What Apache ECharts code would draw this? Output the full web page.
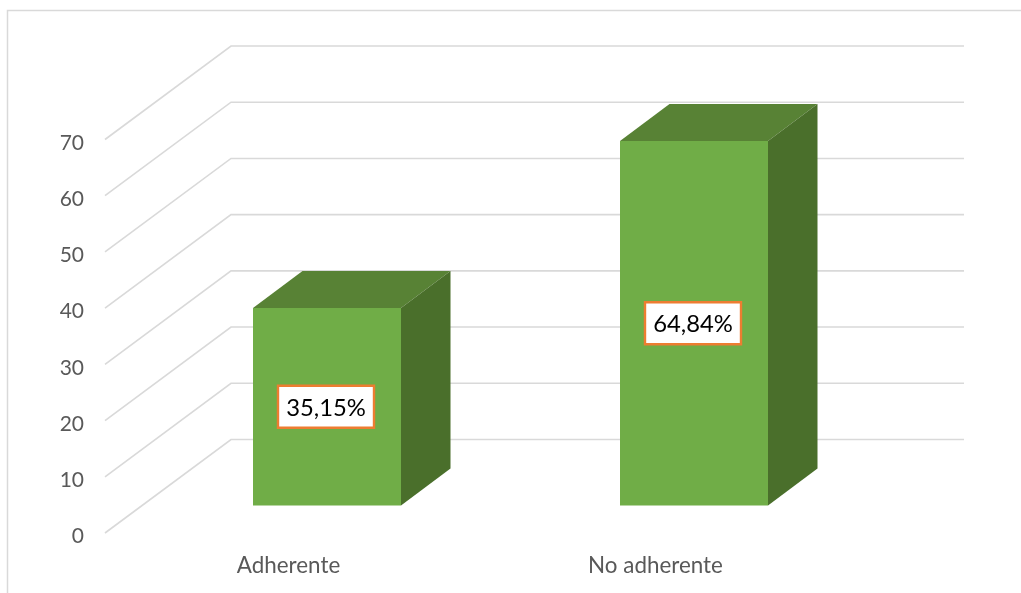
<!DOCTYPE html>
<html>
<head>
<meta charset="utf-8">
<style>html,body{margin:0;padding:0;background:#fff}#c{width:1021px;height:593px}</style>
<script src="https://cdn.jsdelivr.net/npm/echarts@6/dist/echarts.min.js"></script>
</head>
<body>
<div id="c"></div>
<script>
var categories = ['Adherente', 'No adherente'];
var values = [35.15, 64.84];
var valueLabels = ['35,15%', '64,84%'];
var yTicks = [0, 10, 20, 30, 40, 50, 60, 70];

var wallDx = 126, wallDy = -93.5, wallRight = 964;
var barOffsetX = 38.5, barOffsetY = -27.5, barHalf = 74, sideDx = 49.5, sideDy = -37;

var chart = echarts.init(document.getElementById('c'), null, {renderer: 'canvas'});

function gridItem(params, api) {
  var p = api.coord([0, api.value(0)]);
  var x0 = params.coordSys.x, y = p[1];
  return {
    type: 'polyline', silent: true,
    shape: {points: [[x0, y], [x0 + wallDx, y + wallDy], [wallRight, y + wallDy]]},
    style: {stroke: '#d9d9d9', lineWidth: 1.6, fill: null}
  };
}

function barItem(params, api) {
  var top = api.coord([api.value(0), api.value(1)]);
  var base = api.coord([api.value(0), 0]);
  var cx = top[0] + barOffsetX;
  var l = cx - barHalf, r = cx + barHalf;
  var t = top[1] + barOffsetY, b = base[1] + barOffsetY;
  var boxW = 96, boxH = 42, my = (t + b) / 2, lx = cx - 1;
  return {
    type: 'group',
    children: [
      {type: 'polygon', shape: {points: [[l, t], [r, t], [r + sideDx, t + sideDy], [l + sideDx, t + sideDy]]}, style: {fill: '#588235'}},
      {type: 'polygon', shape: {points: [[r, t], [r + sideDx, t + sideDy], [r + sideDx, b + sideDy], [r, b]]}, style: {fill: '#4a6f2b'}},
      {type: 'rect', shape: {x: l, y: t, width: r - l, height: b - t}, style: {fill: '#70ad47'}},
      {type: 'rect', shape: {x: lx - boxW / 2, y: my - boxH / 2, width: boxW, height: boxH},
        style: {fill: '#ffffff', stroke: '#ed7d31', lineWidth: 2.4}},
      {type: 'text', style: {x: lx, y: my + 1.5, text: valueLabels[params.dataIndex], fill: '#000000',
        font: '23.8px Lato, "Open Sans", sans-serif', align: 'center', verticalAlign: 'middle'}}
    ]
  };
}

chart.setOption({
  animation: false,
  backgroundColor: '#ffffff',
  graphic: [{
    type: 'polyline', silent: true, z: 0,
    shape: {points: [[7.5, 593], [7.5, 10.5], [1021, 10.5]]},
    style: {stroke: '#d9d9d9', lineWidth: 1.5, fill: null}
  }],
  grid: {left: 105, right: 182, top: 139.5, bottom: 60, containLabel: false},
  xAxis: {
    type: 'category', data: categories,
    axisLine: {show: false}, axisTick: {show: false}, splitLine: {show: false},
    axisLabel: {color: '#595959', fontFamily: 'Lato, "Open Sans", sans-serif', fontSize: 22.4, margin: 22}
  },
  yAxis: {
    type: 'value', min: 0, max: 70, interval: 10,
    axisLine: {show: false}, axisTick: {show: false}, splitLine: {show: false},
    axisLabel: {color: '#595959', fontFamily: 'Lato, "Open Sans", sans-serif', fontSize: 21, margin: 21, verticalAlign: 'top', lineHeight: 7}
  },
  series: [
    {type: 'custom', name: 'grid', coordinateSystem: 'cartesian2d', renderItem: gridItem,
      encode: {y: 0}, data: yTicks.map(function (v) { return [v]; }), z: 1, silent: true},
    {type: 'custom', name: 'Valor', coordinateSystem: 'cartesian2d', renderItem: barItem,
      encode: {x: 0, y: 1}, data: values.map(function (v, i) { return [i, v]; }), z: 2}
  ]
});
</script>
</body>
</html>
